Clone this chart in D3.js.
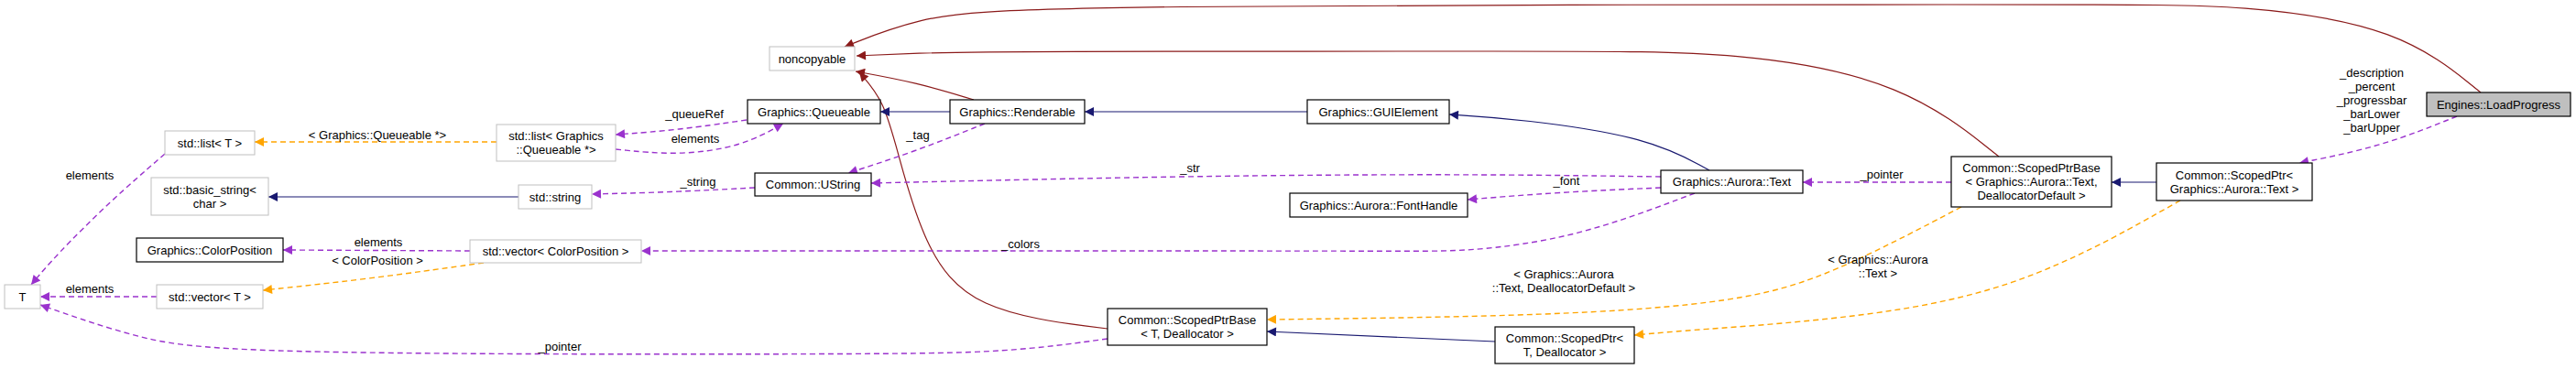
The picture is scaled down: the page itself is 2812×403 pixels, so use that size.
<!DOCTYPE html>
<html><head><meta charset="utf-8">
<script src="https://cdn.jsdelivr.net/npm/d3@7"></script>
<style>body{margin:0;background:#fff}text{font-family:"Liberation Sans",Arial,sans-serif;font-size:13px;fill:#000}</style>
</head><body><svg id="c" width="2812" height="403"></svg>
<script>
// nodes: id, label lines, x0,y0,x1,y1, style
const nodeIds = ["noncopyable","queueable","listQ","listT","basicString","stdString","ustring","colorPos","vecCP","T","vecT","renderable","guiElement","auroraText","fontHandle","spbT","spT","spbText","spText","loadProgress"];
const nodeLabels = [["noncopyable"],["Graphics::Queueable"],["std::list< Graphics","::Queueable *>"],["std::list< T >"],["std::basic_string<","char >"],["std::string"],["Common::UString"],["Graphics::ColorPosition"],["std::vector< ColorPosition >"],["T"],["std::vector< T >"],["Graphics::Renderable"],["Graphics::GUIElement"],["Graphics::Aurora::Text"],["Graphics::Aurora::FontHandle"],["Common::ScopedPtrBase","< T, Deallocator >"],["Common::ScopedPtr<","T, Deallocator >"],["Common::ScopedPtrBase","< Graphics::Aurora::Text,","DeallocatorDefault >"],["Common::ScopedPtr<","Graphics::Aurora::Text >"],["Engines::LoadProgress"]];
const nodeBoxes = [[840,51,933,77],[816,109,961,135],[542,136,672,176],[180,143,278,169],[165,194,293,235],[566,202,646,228],[824,189,951,214],[149,260,309,286],[513,262,700,287],[5,311,44,337],[171,311,287,337],[1037,109,1184,135],[1427,109,1582,135],[1813,186,1968,211],[1408,211,1602,237],[1209,337,1383,377],[1632,357,1784,397],[2130,171,2305,226],[2354,178,2524,219],[2649,101,2806,127]];
const nodeKinds = ["gray","bold","gray","gray","gray","gray","bold","bold","gray","gray","gray","bold","bold","bold","bold","bold","bold","bold","bold","root"];

// edges: kind, points (source ... target), label lines, label position
const edgeKinds = ["red","red","red","red","navy","navy","navy","navy","navy","navy","use","use","use","use","use","use","use","use","use","use","use","use","use","tmpl","tmpl","tmpl","tmpl"];
const edgePoints = [
 [[2708,101],[2620,30],[2447,5],[2300,5],[1110,5],[1000,20],[922,51]],
 [[2182,171],[2080,90],[1900,56],[1700,56],[1085,56],[1000,58],[935,61]],
 [[1063,109],[1000,90],[934,78]],
 [[1209,359],[1060,340],[1008,267],[980,167],[965,110],[938,79]],
 [[1037,122],[961,122]],
 [[1427,122],[1184,122]],
 [[1866,186],[1800,150],[1660,130],[1582,125]],
 [[566,215],[293,215]],
 [[1632,373],[1383,362]],
 [[2354,199],[2305,199]],
 [[815,131],[740,142],[672,147]],
 [[672,163],[740,170],[810,160],[855,135]],
 [[180,168],[120,220],[60,280],[34,311]],
 [[824,205],[730,210],[646,212]],
 [[1075,135],[1000,165],[926,189]],
 [[1813,193],[1600,190],[1300,192],[951,200]],
 [[1813,205],[1700,210],[1602,218]],
 [[1850,211],[1720,260],[1600,275],[1538,274],[1000,274],[700,274]],
 [[513,274],[309,273]],
 [[171,324],[44,324]],
 [[1209,370],[1100,385],[950,387],[250,387],[150,370],[44,333]],
 [[2130,199],[1968,199]],
 [[2682,127],[2600,160],[2510,178]],
 [[542,155],[278,155]],
 [[528,287],[400,305],[287,317]],
 [[2141,226],[2000,300],[1900,330],[1700,345],[1383,349]],
 [[2380,219],[2200,320],[2000,350],[1850,360],[1784,366]]
];
const edgeLabels = [[],[],[],[],[],[],[],[],[],[],["_queueRef"],["elements"],["elements"],["_string"],["_tag"],["_str"],["_font"],["_colors"],["elements"],["elements"],["_pointer"],["_pointer"],["_description","_percent","_progressbar","_barLower","_barUpper"],["< Graphics::Queueable *>"],["< ColorPosition >"],["< Graphics::Aurora","::Text, DeallocatorDefault >"],["< Graphics::Aurora","::Text >"]];
const edgeLabelPos = [null,null,null,null,null,null,null,null,null,null,[758,129],[759,156],[98,196],[762,203],[1002,152],[1299,188],[1710,202],[1114,271],[413,269],[98,320],[611,383],[2054,195],[2589,84],[412,152],[412,289],[1707,304],[2050,288]];

const colors = {red:"#8b1a1a", navy:"#191970", use:"#9a32cd", tmpl:"#ffa500"};
const svg = d3.select("#c");
const defs = svg.append("defs");
Object.entries(colors).forEach(([k,c])=>{
  defs.append("marker").attr("id","m-"+k).attr("viewBox","0 0 10 10").attr("refX",10).attr("refY",5)
   .attr("markerWidth",14).attr("markerHeight",10).attr("markerUnits","userSpaceOnUse").attr("orient","auto")
   .append("path").attr("d","M0,0L10,5L0,10Z").attr("fill",c);
});
const line = d3.line().curve(d3.curveBasis);
const gE = svg.append("g");
edgePoints.forEach((pts,i)=>{
  const k = edgeKinds[i];
  gE.append("path").attr("d",line(pts)).attr("fill","none").attr("stroke",colors[k])
   .attr("stroke-width",k==="use"||k==="tmpl"?1.4:1.2)
   .attr("stroke-dasharray",k==="use"||k==="tmpl"?"6,4":null)
   .attr("marker-end","url(#m-"+k+")");
  const lp = edgeLabelPos[i];
  if(lp){ edgeLabels[i].forEach((t,j)=>{
    gE.append("text").attr("x",lp[0]).attr("y",lp[1]+j*15).attr("text-anchor","middle").text(t);
  });}
});
const gN = svg.append("g");
nodeBoxes.forEach((b,i)=>{
  const k = nodeKinds[i];
  gN.append("rect").attr("x",b[0]).attr("y",b[1]).attr("width",b[2]-b[0]).attr("height",b[3]-b[1])
   .attr("fill",k==="root"?"#bfbfbf":"#fff").attr("stroke",k==="gray"?"#bfbfbf":"#000").attr("stroke-width",k==="gray"?1:1.2);
  const lines = nodeLabels[i], cx=(b[0]+b[2])/2, cy=(b[1]+b[3])/2;
  lines.forEach((t,j)=>{
    gN.append("text").attr("x",cx).attr("y",cy+(j-(lines.length-1)/2)*15+4.5).attr("text-anchor","middle").text(t);
  });
});
</script></body></html>
